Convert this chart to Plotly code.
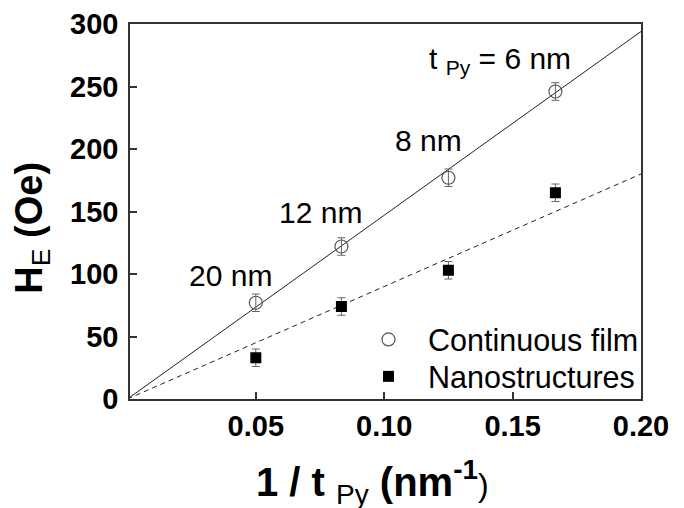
import plotly.graph_objects as go

# Data
inv_t = [1/20, 1/12, 1/8, 1/6]          # 1/t_Py (nm^-1)
he_film = [77, 122, 177, 246]           # Continuous film H_E (Oe)
he_film_err = [7, 7, 7, 7]
he_nano = [33, 74, 103, 165]            # Nanostructures H_E (Oe)
he_nano_err = [7, 7, 7, 7]
fit_x = [0.0, 0.2]
fit_film = [0.0, 294.0]
fit_nano = [0.0, 180.0]
thick_labels = ["20 nm", "12 nm", "8 nm"]
thick_label_x = [0.040, 0.075, 0.1174]
thick_label_y = [99, 149, 207]
x_ticks = [0.05, 0.10, 0.15, 0.20]
x_ticktext = ["0.05", "0.10", "0.15", "0.20"]
y_ticks = [0, 50, 100, 150, 200, 250, 300]

FONT = "Liberation Sans, Arial, sans-serif"

# page body has an 8px margin: figure coords = window coords - 8
OFF = 8
L, R, T, B = 130 - OFF, 641 - OFF, 24 - OFF, 399.5 - OFF
W, H = 684 - OFF, 508 - OFF
PW, PH = R - L, B - T

def px(x):
    return (x - OFF - L) / PW

def py(y):
    return (B - (y - OFF)) / PH

fig = go.Figure()
fig.add_trace(go.Scatter(x=fit_x, y=fit_film, mode="lines",
                         line=dict(color="#222", width=1), showlegend=False, hoverinfo="skip"))
fig.add_trace(go.Scatter(x=fit_x, y=fit_nano, mode="lines",
                         line=dict(color="#222", width=1, dash="5px,4px"), showlegend=False, hoverinfo="skip"))
fig.add_trace(go.Scatter(x=inv_t, y=he_film, mode="markers", name="Continuous film", legend="legend",
                         marker=dict(symbol="circle-open", size=13, color="#555", line=dict(width=1.2, color="#555")),
                         error_y=dict(type="data", array=he_film_err, color="#666", thickness=1, width=4)))
fig.add_trace(go.Scatter(x=inv_t, y=he_nano, mode="markers", name="Nanostructures", legend="legend2",
                         marker=dict(symbol="square", size=11, color="black"),
                         error_y=dict(type="data", array=he_nano_err, color="#666", thickness=1, width=4)))

anns = []
for t, x, y in zip(thick_labels, thick_label_x, thick_label_y):
    anns.append(dict(x=x, y=y, xref="x", yref="y", text=t, showarrow=False,
                     font=dict(family=FONT, size=30, color="black"), xanchor="center", yanchor="middle"))
anns.append(dict(x=0.1168, y=271, xref="x", yref="y", text="t <sub>Py</sub> = 6 nm", showarrow=False,
                 font=dict(family=FONT, size=30, color="black"), xanchor="left", yanchor="middle"))
# axis titles
anns.append(dict(x=px(372), y=py(483), xref="paper", yref="paper",
                 text="<b>1 / t</b> <sub>Py</sub> <b>(nm<sup>-1</sup></b><span style='font-size:32px'>)</span>",
                 showarrow=False, font=dict(family=FONT, size=40, color="black"),
                 xanchor="center", yanchor="middle"))
anns.append(dict(x=px(32), y=py(228), xref="paper", yref="paper",
                 text="<b>H</b><sub>E</sub><b> (Oe)</b>", textangle=-90,
                 showarrow=False, font=dict(family=FONT, size=38, color="black"),
                 xanchor="center", yanchor="middle"))

axis_common = dict(showline=True, linecolor="#333", linewidth=1.5, mirror=True,
                   ticks="inside", ticklen=7, tickwidth=1.5, tickcolor="#333",
                   showgrid=False, zeroline=False, automargin=False,
                   tickfont=dict(family=FONT, size=29, color="black", weight="bold"))
leg_common = dict(xanchor="left", yanchor="middle", bgcolor="rgba(0,0,0,0)",
                  font=dict(family=FONT, size=30.5, color="black"), itemwidth=69, borderwidth=0)
fig.update_layout(
    width=W, height=H,
    margin=dict(l=L, r=W - R, t=T, b=H - B, autoexpand=False),
    paper_bgcolor="white", plot_bgcolor="white",
    xaxis=dict(range=[0.001, 0.2], tickvals=x_ticks, ticktext=x_ticktext, **axis_common),
    yaxis=dict(range=[0, 300], tickvals=y_ticks, ticklabelstandoff=4, **axis_common),
    legend=dict(x=px(349), y=py(340), **leg_common),
    legend2=dict(x=px(349), y=py(377), **leg_common),
    annotations=anns,
    showlegend=True,
)
fig.write_html("out.html")
